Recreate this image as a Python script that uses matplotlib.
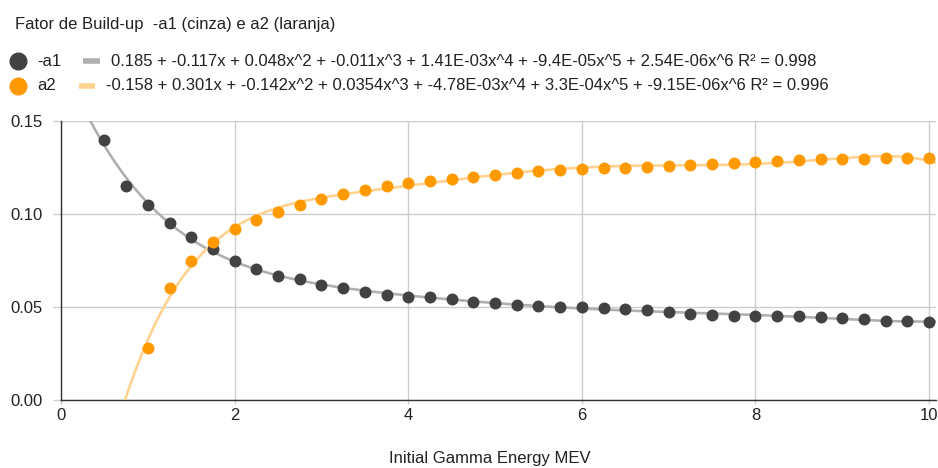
import numpy as np
import matplotlib
matplotlib.use("Agg")
import matplotlib.pyplot as plt
from matplotlib.lines import Line2D

plt.rcParams['font.family'] = ['Liberation Sans', 'DejaVu Sans']

title = "Fator de Build-up  -a1 (cinza) e a2 (laranja)"
x_label = "Initial Gamma Energy MEV"
series_names = ["-a1", "a2"]
trend_labels = [
    "0.185 + -0.117x + 0.048x^2 + -0.011x^3 + 1.41E-03x^4 + -9.4E-05x^5 + 2.54E-06x^6 R\u00b2 = 0.998",
    "-0.158 + 0.301x + -0.142x^2 + 0.0354x^3 + -4.78E-03x^4 + 3.3E-04x^5 + -9.15E-06x^6 R\u00b2 = 0.996",
]

x_a1 = [0.5, 0.75, 1.0, 1.25, 1.5, 1.75, 2.0, 2.25, 2.5, 2.75, 3.0, 3.25, 3.5, 3.75,
        4.0, 4.25, 4.5, 4.75, 5.0, 5.25, 5.5, 5.75, 6.0, 6.25, 6.5, 6.75, 7.0, 7.25,
        7.5, 7.75, 8.0, 8.25, 8.5, 8.75, 9.0, 9.25, 9.5, 9.75, 10.0]
y_a1 = [0.140, 0.115, 0.105, 0.095, 0.0875, 0.081, 0.075, 0.0704, 0.0667, 0.0651,
        0.062, 0.0602, 0.0579, 0.0565, 0.0556, 0.0552, 0.0543, 0.0527, 0.0520, 0.0512,
        0.0505, 0.0502, 0.0498, 0.0493, 0.0491, 0.0482, 0.0473, 0.0462, 0.0455, 0.0453,
        0.0452, 0.0452, 0.0451, 0.0444, 0.0443, 0.0434, 0.0423, 0.0423, 0.0419]

x_a2 = [1.0, 1.25, 1.5, 1.75, 2.0, 2.25, 2.5, 2.75, 3.0, 3.25, 3.5, 3.75,
        4.0, 4.25, 4.5, 4.75, 5.0, 5.25, 5.5, 5.75, 6.0, 6.25, 6.5, 6.75, 7.0, 7.25,
        7.5, 7.75, 8.0, 8.25, 8.5, 8.75, 9.0, 9.25, 9.5, 9.75, 10.0]
y_a2 = [0.028, 0.060, 0.075, 0.085, 0.092, 0.097, 0.101, 0.1049, 0.1083, 0.1106,
        0.1129, 0.1149, 0.1168, 0.1179, 0.1189, 0.1197, 0.1210, 0.1220, 0.1230, 0.1238,
        0.1242, 0.1247, 0.1249, 0.1251, 0.1260, 0.1264, 0.1269, 0.1272, 0.1278, 0.1283,
        0.1289, 0.1294, 0.1297, 0.1297, 0.1299, 0.1299, 0.1299]

x_ticks = [0, 2, 4, 6, 8, 10]
y_ticks = [0.00, 0.05, 0.10, 0.15]

c_dark = "#424242"
c_orange = "#ff9900"
c_dark_trend = "#b0b0b0"
c_orange_trend = "#ffd28f"
c_text = "#222222"

W, H = 938, 468
fig = plt.figure(figsize=(W / 100, H / 100), dpi=100)
ax = fig.add_axes([61 / W, (H - 400) / H, (936 - 61) / W, 279 / H])

ax.set_xlim(0, 10.08)
ax.set_ylim(0, 0.15)

xs = np.linspace(0, 10.08, 400)
p1 = np.polyfit(x_a1, y_a1, 6)
p2 = np.polyfit(x_a2, y_a2, 6)
ax.plot(xs, np.polyval(p1, xs), color=c_dark_trend, lw=1.9, zorder=2)
ax.plot(xs, np.polyval(p2, xs), color=c_orange_trend, lw=1.9, zorder=2)

ax.scatter(x_a1, y_a1, s=74, color=c_dark, zorder=3, linewidths=0)
ax.scatter(x_a2, y_a2, s=74, color=c_orange, zorder=4, linewidths=0)

ax.set_xticks(x_ticks)
ax.set_yticks(y_ticks)
ax.set_yticklabels([f"{v:.2f}" for v in y_ticks])
ax.grid(True, color="#cccccc", lw=1)
ax.set_axisbelow(True)
for s in ["top", "right"]:
    ax.spines[s].set_visible(False)
for s in ["left", "bottom"]:
    ax.spines[s].set_color("#333333")
    ax.spines[s].set_linewidth(1)
    ax.spines[s].set_zorder(1)
ax.tick_params(axis='both', labelsize=12, labelcolor=c_text, color="#cccccc", width=1)
ax.tick_params(axis='y', length=6, pad=7)
ax.tick_params(axis='x', length=3, pad=3)

ax.set_xlabel(x_label, fontsize=12, color=c_text)
ax.xaxis.label.set_va('center')
ax.xaxis.set_label_coords(0.49, -59 / 279)

fig.text(15 / W, 1 - 24 / H, title, fontsize=12, color=c_text, va='center', ha='left')

rows_y = [61, 86]
colors = [c_dark, c_orange]
tcolors = [c_dark_trend, c_orange_trend]
sample_x = [(83, 100), (79, 95)]
text_x = [111, 106]
for i in range(2):
    yy = 1 - rows_y[i] / H
    fig.add_artist(Line2D([18 / W], [yy], marker='o', ms=12,
                          color=colors[i], mec=colors[i], ls='none'))
    fig.text(37 / W, yy, series_names[i], fontsize=12, color=c_text, va='center', ha='left')
    fig.add_artist(Line2D([sample_x[i][0] / W, sample_x[i][1] / W], [yy, yy], lw=4,
                          color=tcolors[i], solid_capstyle='butt'))
    fig.text(text_x[i] / W, yy, trend_labels[i], fontsize=12, color=c_text,
             va='center', ha='left')

fig.savefig("out.png", dpi=100)
